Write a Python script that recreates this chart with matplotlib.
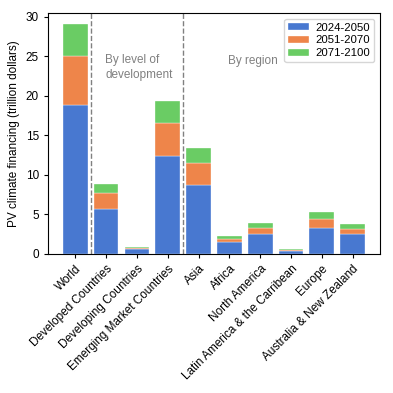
import matplotlib.pyplot as plt
import numpy as np

plt.rcParams['font.family'] = ['Liberation Sans', 'DejaVu Sans']

# Data (trillion dollars, stacked by period)
categories = ["World", "Developed Countries", "Developing Countries", "Emerging Market Countries",
              "Asia", "Africa", "North America", "Latin America & the Carribean", "Europe",
              "Australia & New Zealand"]
p2024_2050 = [18.85, 5.7, 0.68, 12.38, 8.66, 1.48, 2.49, 0.34, 3.3, 2.49]
p2051_2070 = [6.15, 1.95, 0.12, 4.18, 2.87, 0.46, 0.81, 0.11, 1.14, 0.72]
p2071_2100 = [4.1, 1.22, 0.09, 2.79, 1.9, 0.38, 0.59, 0.14, 0.8, 0.51]
series_labels = ["2024-2050", "2051-2070", "2071-2100"]
colors = ["#4878D0", "#EE854A", "#6ACC64"]

fig = plt.figure(figsize=(3.93, 3.93), dpi=100)
ax = fig.add_axes([0.122, 0.354, 0.845, 0.613])

x = np.arange(len(categories))
bottom = np.zeros(len(categories))
for vals, lab, col in zip([p2024_2050, p2051_2070, p2071_2100], series_labels, colors):
    ax.bar(x, vals, 0.8, bottom=bottom, label=lab, color=col, edgecolor="white", linewidth=0.25)
    bottom += np.array(vals)

# Group separators
for xv in [0.5, 3.5]:
    ax.axvline(xv, color="gray", linestyle="--", linewidth=1)

ax.text(0.97, 23.6, "By level of\ndevelopment", color="gray", fontsize=8.5, va="center", ha="left",
        linespacing=1.25)
ax.text(4.95, 24.4, "By region", color="gray", fontsize=8.5, va="center", ha="left")

ax.set_ylim(0, 30.5)
ax.set_yticks([0, 5, 10, 15, 20, 25, 30])
ax.set_xticks(x)
ax.set_xticklabels(categories, rotation=45, ha="right", rotation_mode="anchor")
ax.tick_params(labelsize=8.5, length=3)
ax.set_ylabel("PV climate financing (trillion dollars)", fontsize=8.5)
ax.legend(loc="upper right", fontsize=8.2, handlelength=1.8, handleheight=0.5,
          handletextpad=0.6, labelspacing=0.25, borderpad=0.35)

plt.savefig("out.png", dpi=100)
plt.close()
